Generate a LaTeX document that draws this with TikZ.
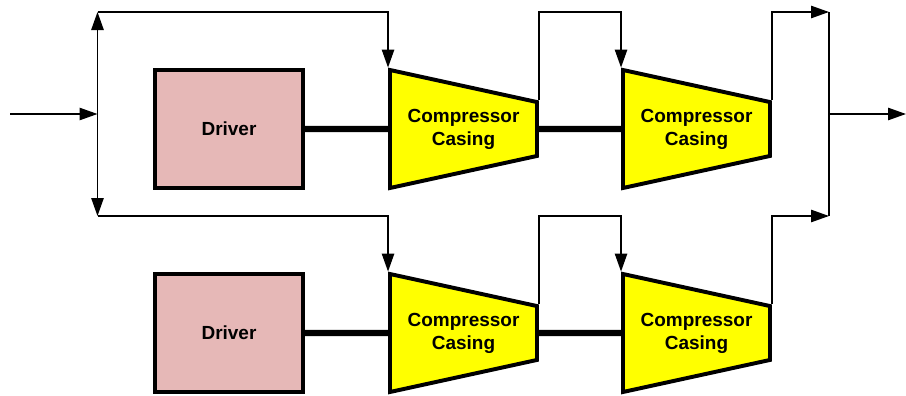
\documentclass[tikz,border=0pt]{standalone}
\usepackage{fontspec}
\setmainfont{Liberation Sans}
\usetikzlibrary{arrows.meta, shapes.geometric, positioning, calc}
\definecolor{driverpink}{RGB}{230,184,183}
\definecolor{casingyellow}{RGB}{255,255,0}

\begin{document}
\begin{tikzpicture}[
  every node/.style={font=\fontsize{13.5}{16.4}\selectfont\bfseries},
  drivernode/.style={rectangle, draw=black, fill=driverpink, line width=2.8pt, minimum width=3.7cm, minimum height=2.95cm},
  casingnode/.style={trapezium, shape border rotate=270, trapezium angle=74, trapezium stretches body, draw=black, fill=casingyellow, line width=2.8pt, minimum width=2.95cm, minimum height=3.675cm, inner sep=0pt, align=center},
  pipe/.style={line width=1pt},
  arr/.style={-{Triangle[length=0.45cm, width=0.31cm]}, line width=1pt},
  shaft/.style={line width=4.5pt},
]
\useasboundingbox (0,0) rectangle (22.65,-9.9);

%% Headers and buses
\coordinate (in)  at (0.25, -2.85);
\coordinate (lbt) at (2.4375, -0.3);
\coordinate (lbm) at (2.4375, -2.85);
\coordinate (lbb) at (2.4375, -5.4);
\coordinate (rbt) at (20.725, -0.3);
\coordinate (rbm) at (20.725, -2.85);
\coordinate (rbb) at (20.725, -5.4);
\coordinate (out) at (22.65, -2.85);

%% Upper train
\node[drivernode] (drvA) at (5.725, -3.225) {Driver};
\node[casingnode] (casA1) at (11.5875, -3.225) {Compressor\\Casing};
\node[casingnode] (casA2) at (17.4125, -3.225) {Compressor\\Casing};

%% Lower train
\node[drivernode] (drvB) at (5.725, -8.325) {Driver};
\node[casingnode] (casB1) at (11.5875, -8.325) {Compressor\\Casing};
\node[casingnode] (casB2) at (17.4125, -8.325) {Compressor\\Casing};

%% Shafts
\draw[shaft] (drvA.east) -- (casA1.west);
\draw[shaft] (casA1.east) -- (casA2.west);
\draw[shaft] (drvB.east) -- (casB1.west);
\draw[shaft] (casB1.east) -- (casB2.west);

%% Suction header
\draw[arr] (in) -- (lbm);
\draw[{Triangle[length=0.45cm, width=0.31cm]}-{Triangle[length=0.45cm, width=0.31cm]}, pipe] (lbt) -- (lbb);
\draw[arr] (lbt) -| (casA1.bottom left corner);
\draw[arr] (lbb) -| (casB1.bottom left corner);

%% Interstage piping
\draw[arr] (casA1.top left corner) -- (casA1.top left corner |- lbt) -| (casA2.bottom left corner);
\draw[arr] (casB1.top left corner) -- (casB1.top left corner |- lbb) -| (casB2.bottom left corner);

%% Discharge header
\draw[arr] (casA2.top left corner) |- (rbt);
\draw[arr] (casB2.top left corner) |- (rbb);
\draw[pipe] (rbt) -- (rbb);
\draw[arr] (rbm) -- (out);

\end{tikzpicture}
\end{document}
